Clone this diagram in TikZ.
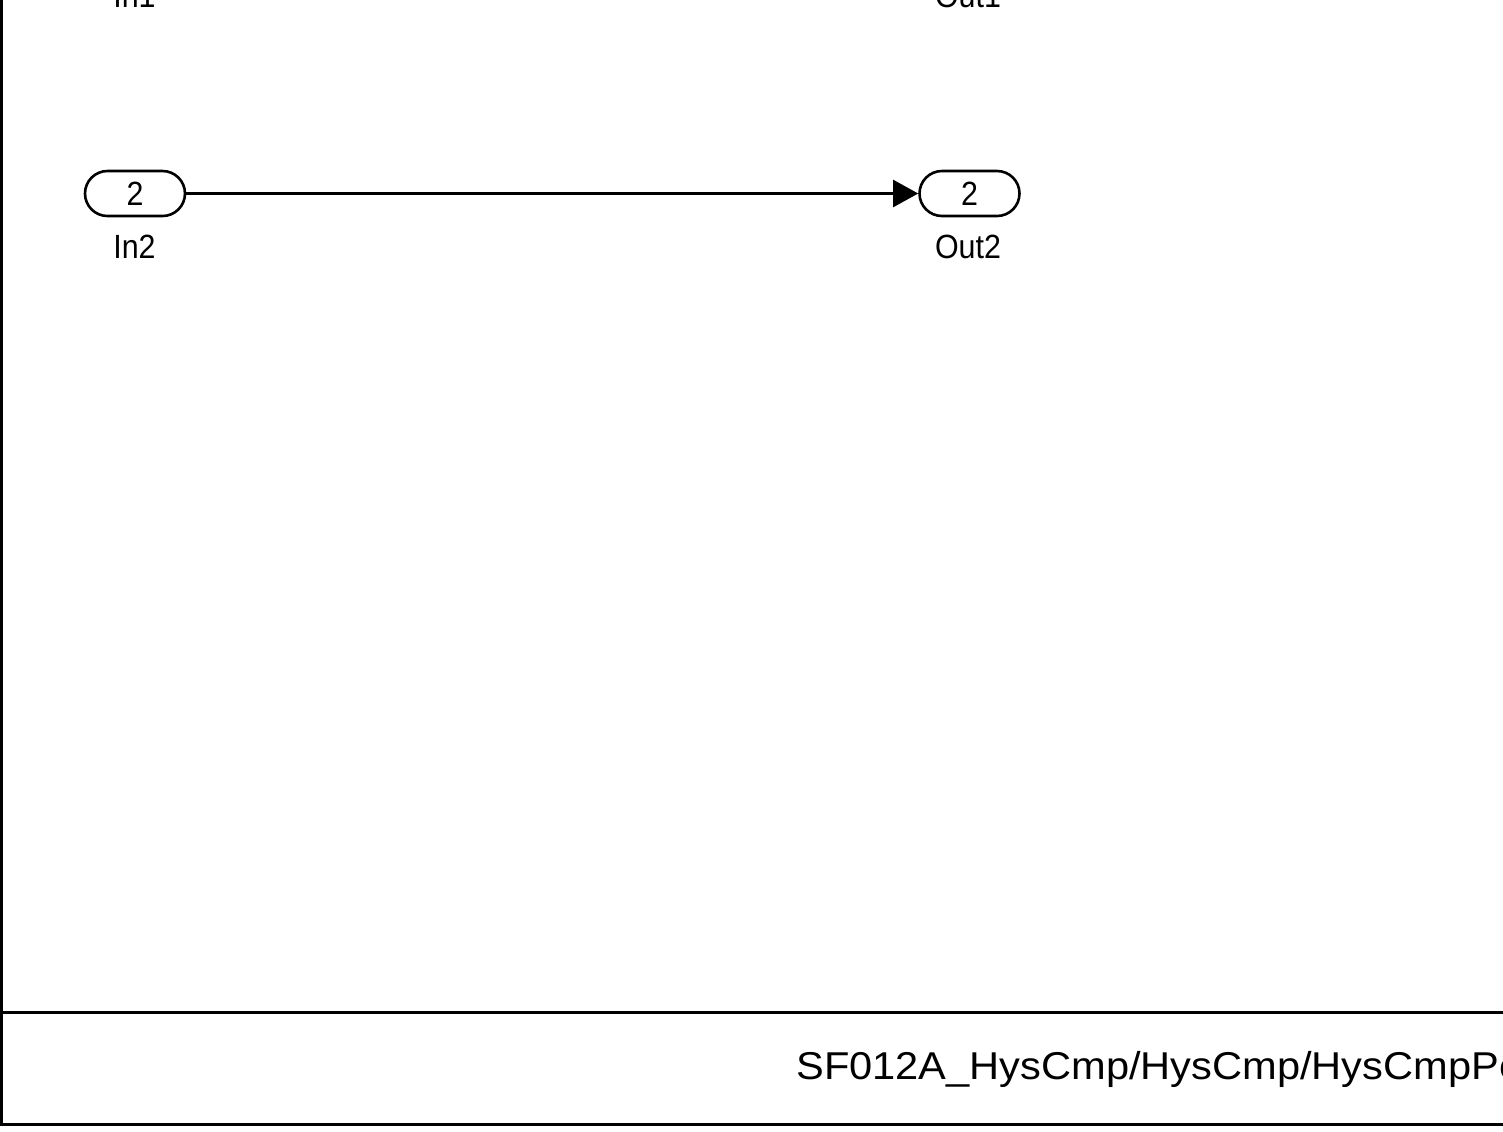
\documentclass[tikz,border=0pt]{standalone}
\usepackage{fontspec}
\setmainfont{Liberation Sans}
\usetikzlibrary{arrows.meta}
\begin{document}
\begin{tikzpicture}[x=0.5pt,y=-0.5pt,
  port/.style={draw,line width=1.3pt,rounded corners=11.25pt,minimum width=50pt,minimum height=22.5pt,inner sep=0pt,
    font=\fontsize{16}{16}\selectfont},
  lbl/.style={anchor=base,inner sep=0pt,font=\fontsize{16}{16}\selectfont},
  frame/.style={line width=1.9pt},
  sig/.style={line width=1.1pt,-{Triangle[length=12.5pt,width=13.5pt]}}]
\useasboundingbox (0,0) rectangle (1503,1131);
\clip (0,0) rectangle (1503,1131);
\fill[white] (0,0) rectangle (1503,1131);
% frame
\draw[frame] (1.5,-50) -- (1.5,1124.5) -- (1600,1124.5);
\draw[frame] (1.5,1012.5) -- (1600,1012.5);
% top labels (blocks above the view)
\node[lbl] (in1lbl) at (134.5,7) {\scalebox{0.95}[1.05]{In1}};
\node[lbl] (out1lbl) at (968,7) {\scalebox{0.95}[1.05]{Out1}};
% ports
\node[port] (in2) at (135,193.5) {\raisebox{-1pt}{\scalebox{0.95}[1.05]{2}}};
\node[port] (out2) at (969.5,193.5) {\raisebox{-1pt}{\scalebox{0.95}[1.05]{2}}};
\node[lbl] (in2lbl) at (134.5,258) {\scalebox{0.95}[1.05]{In2}};
\node[lbl] (out2lbl) at (968,258) {\scalebox{0.95}[1.05]{Out2}};
\draw[sig] (in2.east) -- (out2.west);
% title
\node[anchor=base west,inner sep=0pt,font=\fontsize{20}{20}\selectfont] (title) at (796,1079)
  {\scalebox{1.04}[0.97]{SF012A\_HysCmp/HysCmp/HysCmpPeriod}};
\end{tikzpicture}
\end{document}
